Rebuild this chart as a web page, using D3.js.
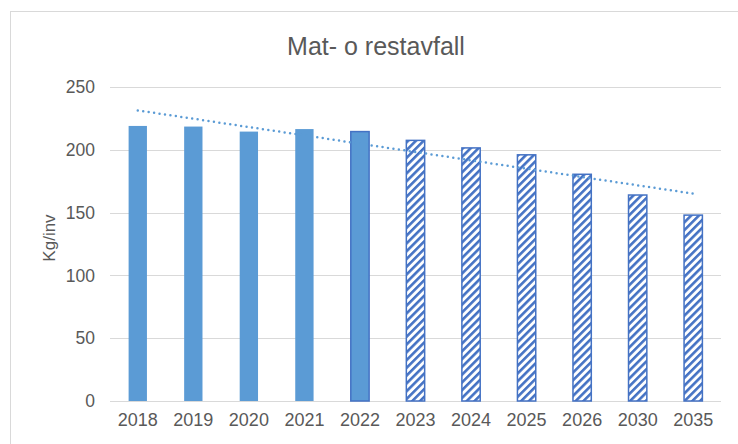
<!DOCTYPE html>
<html>
<head>
<meta charset="utf-8">
<script src="https://cdn.jsdelivr.net/npm/d3@7"></script>
<style>
    body { margin: 0; background: #ffffff; }
    text { font-family: "Liberation Sans", Arial, sans-serif; fill: #595959; }
</style>
</head>
<body>
<div id="chart"></div>
<script>
// chart data
const years = ["2018", "2019", "2020", "2021", "2022", "2023", "2024", "2025", "2026", "2030", "2035"];
const kgPerInv = [219, 218.5, 214.5, 216.5, 214.5, 207.5, 201.5, 196, 180.5, 164, 148];
const forecast = [false, false, false, false, false, true, true, true, true, true, true];
const yTicks = [0, 50, 100, 150, 200, 250];
const title = "Mat- o restavfall";
const yLabel = "Kg/inv";

const W = 738, H = 444;
const margin = {top: 87, right: 17, bottom: 43, left: 110};
const width = W - margin.left - margin.right;
const height = H - margin.top - margin.bottom;

const svg = d3.select("#chart")
    .append("svg")
    .attr("width", W)
    .attr("height", H);

// hatch pattern for the forecast bars
svg.append("defs")
    .append("pattern")
    .attr("id", "hatch")
    .attr("patternUnits", "userSpaceOnUse")
    .attr("width", 5.5)
    .attr("height", 5.5)
    .attr("patternTransform", "rotate(45)")
    .call(p => {
        p.append("rect").attr("width", 5.5).attr("height", 5.5).attr("fill", "#ffffff");
        p.append("line")
            .attr("x1", 1.3).attr("y1", 0)
            .attr("x2", 1.3).attr("y2", 5.5)
            .attr("stroke", "#4472c4")
            .attr("stroke-width", 2.6);
    });

// outer frame (right and bottom edges fall outside the picture)
svg.append("rect")
    .attr("x", 10.5)
    .attr("y", 11.5)
    .attr("width", 760)
    .attr("height", 460)
    .attr("fill", "none")
    .attr("stroke", "#d9d9d9");

svg.append("text")
    .attr("x", 376)
    .attr("y", 55)
    .attr("text-anchor", "middle")
    .style("font-size", "25px")
    .text(title);

const g = svg.append("g")
    .attr("transform", `translate(${margin.left},${margin.top})`);

const x = d3.scaleBand()
    .domain(years)
    .range([0, width])
    .paddingInner(0.67)
    .paddingOuter(0.335);

const y = d3.scaleLinear()
    .domain([0, 250])
    .range([height, 0]);

// gridlines
g.append("g")
    .selectAll("line")
    .data(yTicks)
    .join("line")
    .attr("x1", 0)
    .attr("x2", width)
    .attr("y1", d => Math.round(y(d)) + 0.5)
    .attr("y2", d => Math.round(y(d)) + 0.5)
    .attr("stroke", "#d9d9d9")
    .attr("stroke-width", 1);

// y axis labels
const yAxis = g.append("g")
    .call(d3.axisLeft(y).tickValues(yTicks).tickSize(0).tickPadding(15));
yAxis.select(".domain").remove();
yAxis.selectAll("text")
    .style("font-size", "17.5px")
    .style("font-family", null)
    .attr("fill", null);

// x axis labels
const xAxis = g.append("g")
    .attr("transform", `translate(0,${height})`)
    .call(d3.axisBottom(x).tickSize(0).tickPadding(12));
xAxis.select(".domain").remove();
xAxis.selectAll("text")
    .style("font-size", "18px")
    .style("font-family", null)
    .attr("fill", null);

// bars
g.append("g")
    .selectAll("rect")
    .data(years)
    .join("rect")
    .attr("x", d => x(d))
    .attr("y", (d, i) => y(kgPerInv[i]))
    .attr("width", x.bandwidth())
    .attr("height", (d, i) => height - y(kgPerInv[i]))
    .attr("fill", (d, i) => forecast[i] ? "url(#hatch)" : "#5b9bd5")
    .attr("stroke", (d, i) => (forecast[i] || d === "2022") ? "#4472c4" : "none")
    .attr("stroke-width", 1.5);

// linear trend line (least squares on category index)
const idx = years.map((d, i) => i + 1);
const mx = d3.mean(idx);
const my = d3.mean(kgPerInv);
const slope = d3.sum(idx, (v, i) => (v - mx) * (kgPerInv[i] - my)) / d3.sum(idx, v => (v - mx) ** 2);
const icept = my - slope * mx;
const first = years[0], last = years[years.length - 1];

g.append("line")
    .attr("x1", x(first) + x.bandwidth() / 2)
    .attr("x2", x(last) + x.bandwidth() / 2)
    .attr("y1", y(icept + slope * 1))
    .attr("y2", y(icept + slope * years.length))
    .attr("stroke", "#5b9bd5")
    .attr("stroke-width", 2.5)
    .attr("stroke-linecap", "round")
    .attr("stroke-dasharray", "0,5.5");

// y axis title
svg.append("text")
    .attr("transform", "translate(55,238) rotate(-90)")
    .attr("text-anchor", "middle")
    .style("font-size", "17px")
    .text(yLabel);
</script>
</body>
</html>
